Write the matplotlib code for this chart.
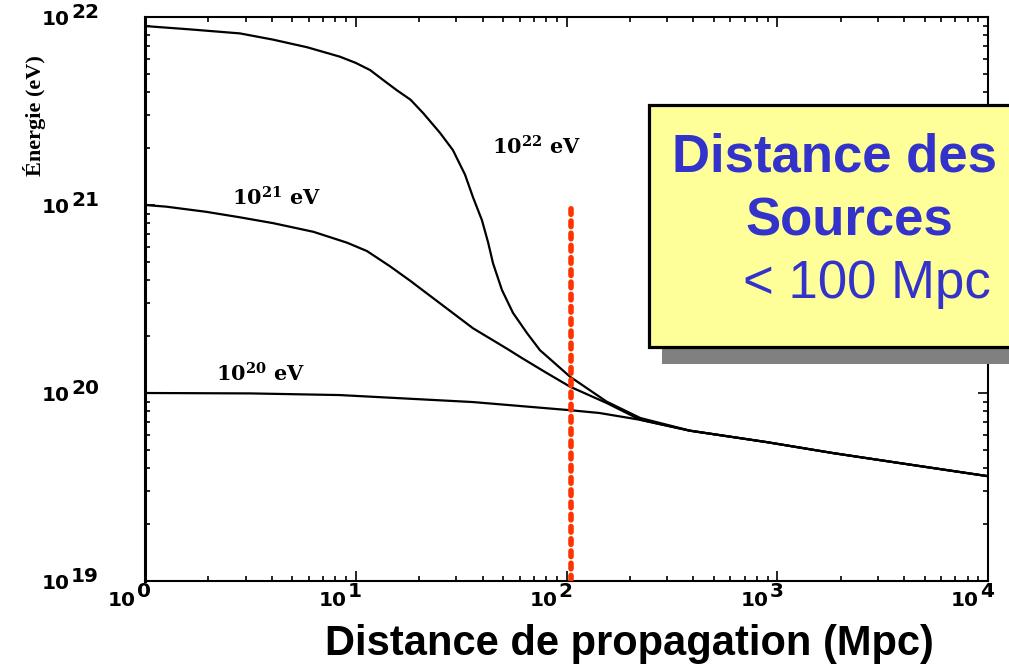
import matplotlib
matplotlib.use("Agg")
import matplotlib.pyplot as plt
from matplotlib.patches import Rectangle
import numpy as np

# ---------------- data ----------------
dist_22 = [1, 1.62, 2.82, 4.05, 5.89, 8.41, 10.0, 11.7, 13.5, 15.7, 18.2, 20.9,
           25.1, 28.9, 33.0, 36.0, 39.7, 42.5, 44.8, 49.4, 55.7, 65.0, 74.8,
           104, 155, 224, 385, 891, 1841, 3802, 10000]
energy_22 = [8.95e21, 8.6e21, 8.18e21, 7.58e21, 6.9e21, 6.15e21, 5.7e21,
             5.22e21, 4.62e21, 4.07e21, 3.63e21, 3.08e21, 2.42e21, 1.96e21,
             1.45e21, 1.10e21, 8.3e20, 6.3e20, 4.9e20, 3.53e20, 2.67e20,
             2.08e20, 1.69e20, 1.22e20, 9.0e19, 7.36e19, 6.31e19, 5.48e19,
             4.79e19, 4.24e19, 3.61e19]

dist_21 = [1, 1.26, 1.95, 2.82, 4.07, 6.3, 9.1, 11.3, 14.5, 18.2, 25.1, 36.0,
           52.2, 61.7, 79.4, 104, 155, 224, 385, 891, 1841, 3802, 10000]
energy_21 = [1.0e21, 9.8e20, 9.2e20, 8.6e20, 8.0e20, 7.2e20, 6.3e20, 5.69e20,
             4.73e20, 3.94e20, 3.0e20, 2.21e20, 1.72e20, 1.53e20, 1.29e20,
             1.08e20, 8.85e19, 7.2e19, 6.3e19, 5.48e19, 4.79e19, 4.24e19,
             3.61e19]

dist_20 = [1, 3.16, 8.4, 36.0, 104, 143, 224, 385, 891, 1841, 3802, 10000]
energy_20 = [1.0e20, 9.95e19, 9.75e19, 8.95e19, 8.1e19, 7.83e19, 7.2e19,
             6.3e19, 5.48e19, 4.79e19, 4.24e19, 3.61e19]

curve_labels = ["22", "21", "20"]
label_pos_x = [44.4, 2.59, 2.17]
label_pos_y = [1.85e21, 9.9e20, 1.15e20]

source_limit_x = [105, 105]
source_limit_y = [1e19, 1.03e21]

x_ticks = [1, 10, 100, 1000, 10000]
x_exps = ["0", "1", "2", "3", "4"]
y_ticks = [1e19, 1e20, 1e21, 1e22]
y_exps = ["19", "20", "21", "22"]

box_lines = ["Distance des", "Sources", "< 100 Mpc"]

# ---------------- figure ----------------
W, H = 1009, 669
fig = plt.figure(figsize=(W / 100, H / 100), dpi=100)
fig.patch.set_facecolor("white")

def fx(x):
    return x / W

def fy(y):
    return (H - y) / H

ax_l, ax_r, ax_t, ax_b = 145, 988, 17, 581
ax = fig.add_axes([fx(ax_l), fy(ax_b), (ax_r - ax_l) / W, (ax_b - ax_t) / H])
ax.set_xscale("log")
ax.set_yscale("log")
ax.set_xlim(1, 1e4)
ax.set_ylim(1e19, 1e22)

for d, e in [(dist_22, energy_22), (dist_21, energy_21), (dist_20, energy_20)]:
    ax.plot(d, e, color="black", lw=1.6, solid_joinstyle="round")

ax.plot(source_limit_x, source_limit_y, color="#ff3300", lw=4.0,
        linestyle=(0, (1.0, 1.2)), dash_capstyle="round", zorder=4)

for lab, lx, ly in zip(curve_labels, label_pos_x, label_pos_y):
    ax.text(lx, ly, r"$\mathbf{10^{%s}}$ eV" % lab, fontsize=15,
            family="DejaVu Serif", weight="bold", math_fontfamily="dejavuserif",
            ha="left", va="baseline")

# ticks
ax.tick_params(which="both", direction="in", top=True, right=True,
               labelbottom=False, labelleft=False, width=1.2, color="black")
ax.tick_params(which="major", length=7)
ax.tick_params(which="minor", length=3.5)
ax.set_xticks(x_ticks)
ax.set_yticks(y_ticks)
for s in ax.spines.values():
    s.set_linewidth(1.5)
ax.spines["left"].set_linewidth(2.2)

tick_font = dict(fontsize=14.5, family="DejaVu Sans", weight="bold")
for t, e in zip(x_ticks, x_exps):
    ax.annotate("10", xy=(t, 0), xycoords=("data", "axes fraction"),
                xytext=(-9, -25), textcoords="offset pixels",
                ha="right", va="baseline", annotation_clip=False, **tick_font)
    ax.annotate(e, xy=(t, 0), xycoords=("data", "axes fraction"),
                xytext=(-8, -16), textcoords="offset pixels",
                ha="left", va="baseline", annotation_clip=False, **tick_font)
for t, e in zip(y_ticks, y_exps):
    ax.annotate("10", xy=(0, t), xycoords=("axes fraction", "data"),
                xytext=(-75, -8), textcoords="offset pixels",
                ha="right", va="baseline", annotation_clip=False, **tick_font)
    ax.annotate(e, xy=(0, t), xycoords=("axes fraction", "data"),
                xytext=(-74, -1), textcoords="offset pixels",
                ha="left", va="baseline", annotation_clip=False, **tick_font)

# axis labels
fig.text(fx(35), fy(116), "Énergie (eV)", rotation=90, fontsize=16,
         family="Liberation Serif", weight="bold", ha="center", va="center")
fig.text(fx(629), fy(655), "Distance de propagation (Mpc)", fontsize=30,
         family="Liberation Sans", weight="bold", ha="center", va="baseline")

# yellow callout box with shadow
shadow = Rectangle((fx(662), fy(364)), (1040 - 662) / W, (364 - 123) / H,
                   transform=fig.transFigure, facecolor="#808080",
                   edgecolor="none", zorder=5)
box = Rectangle((fx(649), fy(347)), (1040 - 649) / W, (347 - 105) / H,
                transform=fig.transFigure, facecolor="#ffff99",
                edgecolor="black", lw=2.3, zorder=6)
fig.add_artist(shadow)
fig.add_artist(box)

blue = "#3333cc"
fig.text(fx(672), fy(172), box_lines[0], fontsize=38, family="Liberation Sans",
         weight="bold", color=blue, ha="left", va="baseline", zorder=7)
fig.text(fx(745), fy(235), box_lines[1], fontsize=38, family="Liberation Sans",
         weight="bold", color=blue, ha="left", va="baseline", zorder=7)
fig.text(fx(743), fy(298), box_lines[2], fontsize=38, family="Liberation Sans",
         weight="normal", color=blue, ha="left", va="baseline", zorder=7)

fig.savefig("out.png", dpi=100)
